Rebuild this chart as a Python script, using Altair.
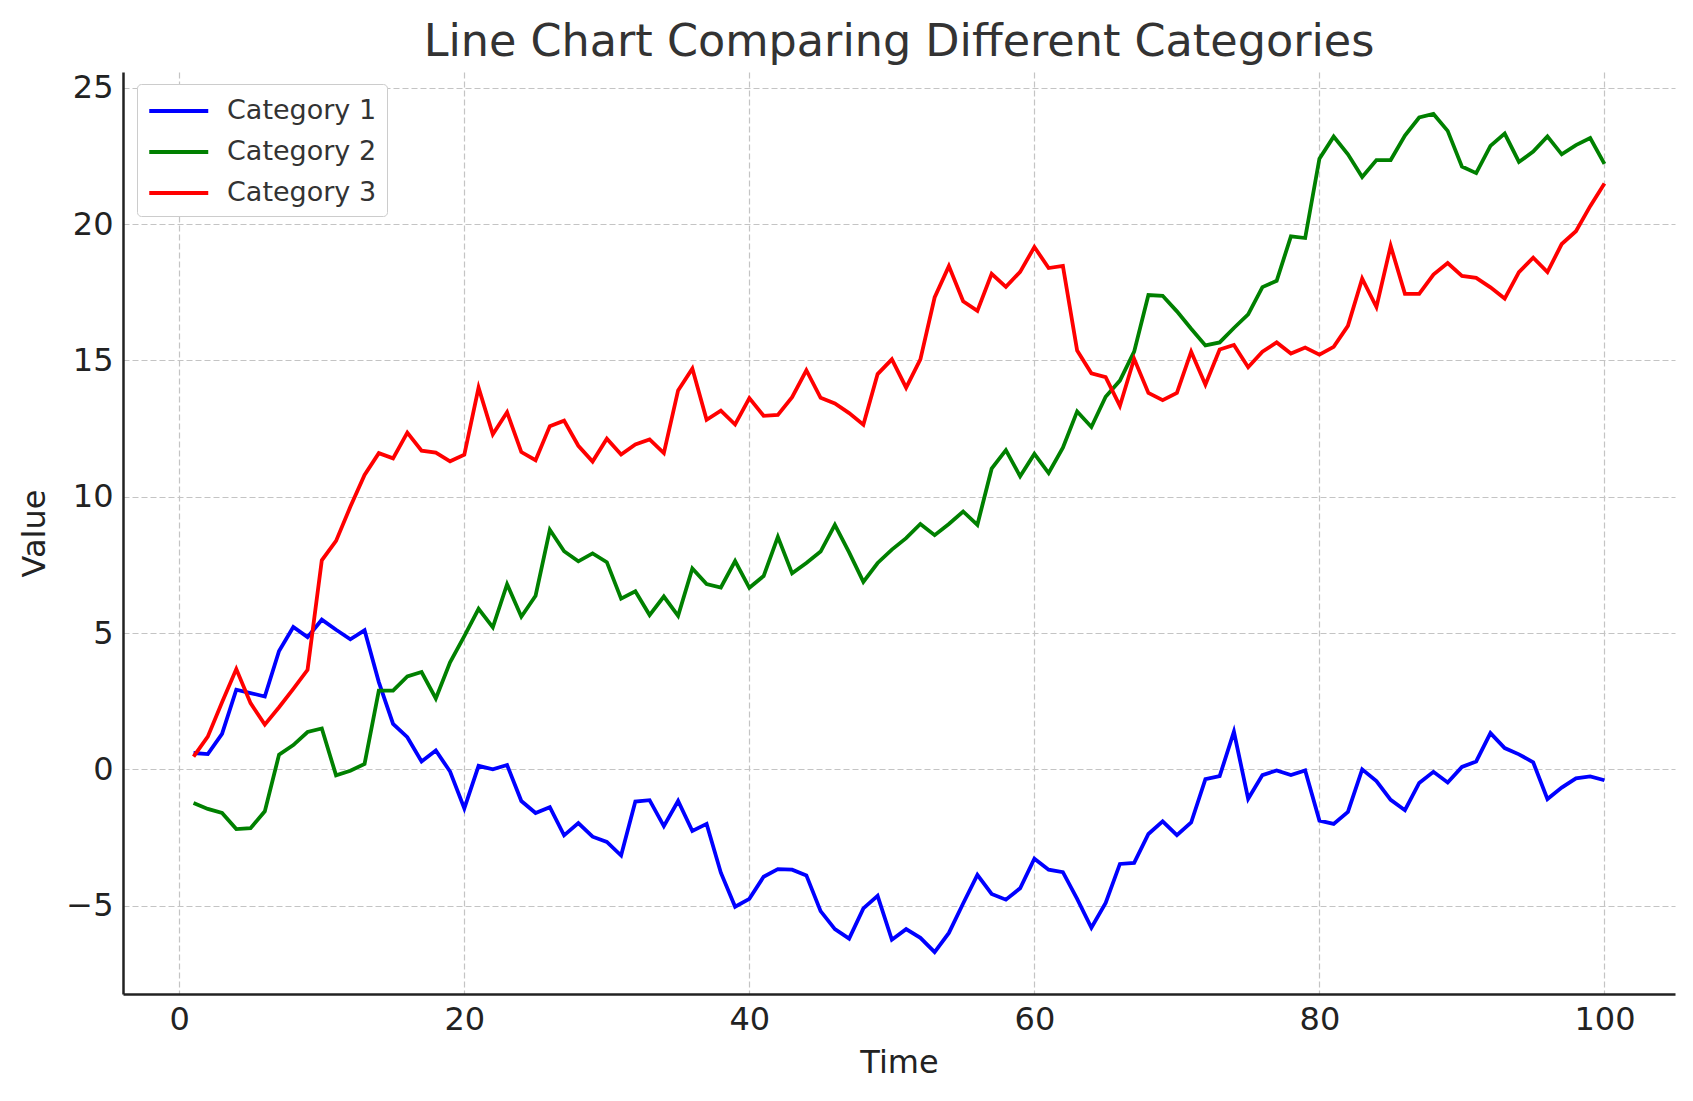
import altair as alt
import pandas as pd

time = list(range(1, 101))

category_1 = [
    0.6, 0.56, 1.3, 2.92, 2.8, 2.67, 4.34, 5.22, 4.85, 5.49,
    5.12, 4.77, 5.1, 3.2, 1.67, 1.18, 0.29, 0.69, -0.08, -1.43,
    0.13, 0.0, 0.16, -1.16, -1.6, -1.39, -2.42, -1.97, -2.47, -2.66,
    -3.16, -1.18, -1.13, -2.08, -1.16, -2.26, -2.0, -3.79, -5.04, -4.75,
    -3.94, -3.66, -3.68, -3.89, -5.2, -5.86, -6.21, -5.1, -4.64, -6.25,
    -5.86, -6.18, -6.7, -6.0, -4.92, -3.87, -4.57, -4.78, -4.36, -3.28,
    -3.68, -3.77, -4.75, -5.81, -4.9, -3.47, -3.43, -2.37, -1.91, -2.41,
    -1.95, -0.36, -0.25, 1.38, -1.08, -0.21, -0.04, -0.21, -0.04, -1.88,
    -2.0, -1.56, 0.0, -0.43, -1.12, -1.5, -0.5, -0.09, -0.48, 0.09,
    0.29, 1.33, 0.78, 0.55, 0.26, -1.09, -0.67, -0.33, -0.26, -0.4,
]

category_2 = [
    -1.23, -1.45, -1.6, -2.19, -2.16, -1.54, 0.54, 0.89, 1.37, 1.5,
    -0.22, -0.05, 0.2, 2.89, 2.89, 3.41, 3.57, 2.6, 3.93, 4.89,
    5.89, 5.21, 6.79, 5.6, 6.37, 8.79, 8.0, 7.63, 7.92, 7.6,
    6.26, 6.53, 5.66, 6.34, 5.63, 7.37, 6.8, 6.67, 7.64, 6.66,
    7.09, 8.53, 7.19, 7.57, 7.99, 8.97, 7.96, 6.88, 7.57, 8.06,
    8.48, 9.0, 8.59, 9.0, 9.46, 8.97, 11.03, 11.71, 10.75, 11.57,
    10.87, 11.8, 13.13, 12.56, 13.67, 14.26, 15.32, 17.4, 17.37, 16.8,
    16.16, 15.55, 15.66, 16.19, 16.69, 17.69, 17.92, 19.55, 19.49, 22.4,
    23.21, 22.56, 21.73, 22.35, 22.35, 23.25, 23.91, 24.04, 23.42, 22.11,
    21.87, 22.87, 23.32, 22.28, 22.66, 23.22, 22.56, 22.9, 23.16, 22.21,
]

category_3 = [
    0.47, 1.2, 2.46, 3.68, 2.43, 1.64, 2.28, 2.95, 3.65, 7.67,
    8.38, 9.63, 10.8, 11.6, 11.41, 12.35, 11.69, 11.62, 11.3, 11.54,
    14.0, 12.29, 13.1, 11.64, 11.34, 12.59, 12.79, 11.87, 11.29, 12.13,
    11.55, 11.92, 12.1, 11.6, 13.9, 14.7, 12.82, 13.16, 12.65, 13.62,
    12.97, 13.0, 13.65, 14.64, 13.63, 13.42, 13.07, 12.64, 14.5, 15.04,
    14.0, 15.04, 17.31, 18.46, 17.17, 16.82, 18.18, 17.7, 18.25, 19.16,
    18.39, 18.47, 15.36, 14.53, 14.39, 13.33, 15.06, 13.81, 13.54, 13.81,
    15.32, 14.11, 15.4, 15.57, 14.75, 15.32, 15.66, 15.25, 15.47, 15.21,
    15.5, 16.27, 18.0, 16.96, 19.2, 17.44, 17.44, 18.15, 18.57, 18.1,
    18.03, 17.68, 17.27, 18.24, 18.77, 18.24, 19.27, 19.74, 20.66, 21.49,
]

categories = ["Category 1", "Category 2", "Category 3"]
colors = ["#0000ff", "#008000", "#ff0000"]
x_ticks = [0, 20, 40, 60, 80, 100]
y_ticks = [-5, 0, 5, 10, 15, 20, 25]

rows = []
for name, series in zip(categories, [category_1, category_2, category_3]):
    for t, v in zip(time, series):
        rows.append({"Time": t, "Value": v, "Category": name})
df = pd.DataFrame(rows)

FONT = "DejaVu Sans"

chart = (
    alt.Chart(df)
    .mark_line(strokeWidth=3.8)
    .encode(
        x=alt.X(
            "Time:Q",
            scale=alt.Scale(domain=[-3.95, 104.95], nice=False, zero=False),
            axis=alt.Axis(values=x_ticks, title="Time", titlePadding=12, format="d"),
        ),
        y=alt.Y(
            "Value:Q",
            scale=alt.Scale(domain=[-8.24, 25.58], nice=False, zero=False),
            axis=alt.Axis(values=y_ticks, title="Value", titlePadding=14, format="d"),
        ),
        color=alt.Color(
            "Category:N",
            scale=alt.Scale(domain=categories, range=colors),
            legend=alt.Legend(
                title=None,
                orient="none",
                legendX=14,
                legendY=12,
                direction="vertical",
                labelFont=FONT,
                labelFontSize=27,
                labelColor="#333333",
                symbolType="M-1,0H3",
                symbolSize=870,
                symbolStrokeWidth=4,
                labelOffset=46,
                padding=10,
                rowPadding=11,
                strokeColor="#cccccc",
                fillColor="white",
                cornerRadius=4,
            ),
        ),
        order=alt.Order("Time:Q"),
    )
    .properties(
        width=1552,
        height=922,
        title=alt.TitleParams(
            "Line Chart Comparing Different Categories",
            font=FONT,
            fontSize=44.5,
            fontWeight="normal",
            color="#333333",
            anchor="middle",
            offset=6,
        ),
        autosize=alt.AutoSizeParams(type="none"),
        padding={"left": 115, "top": 64, "right": 10, "bottom": 90},
    )
    .configure_view(stroke=None)
    .configure_axis(
        labelFont=FONT,
        labelFontSize=32,
        labelColor="#222222",
        titleFont=FONT,
        titleFontSize=32,
        titleFontWeight="normal",
        titleColor="#222222",
        domainColor="#222222",
        domainWidth=2.5,
        ticks=False,
        labelPadding=10,
        gridColor="#c4c4c4",
        gridDash=[6, 3],
        gridWidth=1.2,
    )
)

chart.save("out.html", embed_options={"renderer": "svg", "actions": False})
